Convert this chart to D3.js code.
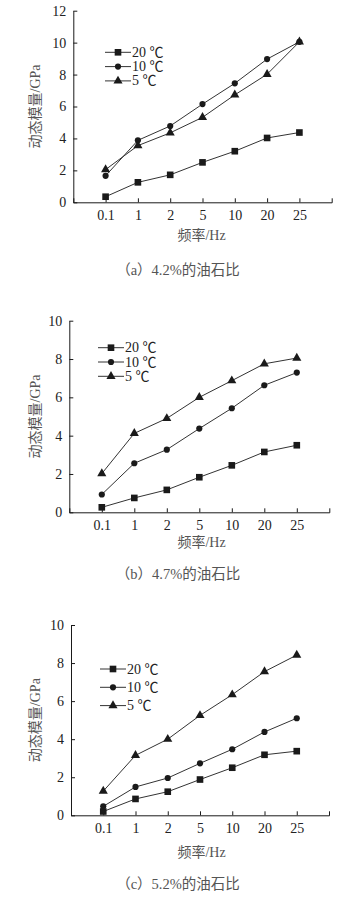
<!DOCTYPE html>
<html>
<head>
<meta charset="utf-8">
<script src="https://cdn.jsdelivr.net/npm/d3@7"></script>
<style>
  body { margin: 0; background: #fff; }
  svg { display: block; }
</style>
</head>
<body>
<svg id="chart" width="357" height="900"></svg>
<script>
// 数据
const freqs = ["0.1", "1", "2", "5", "10", "20", "25"];
const seriesLabels = ["20 ℃", "10 ℃", "5 ℃"];
const ticksA = [0, 2, 4, 6, 8, 10, 12];
const ticksBC = [0, 2, 4, 6, 8, 10];

const a20 = [0.35, 1.25, 1.72, 2.5, 3.2, 4.03, 4.37];
const a10 = [1.66, 3.88, 4.78, 6.15, 7.45, 8.97, 10.05];
const a5  = [2.05, 3.55, 4.35, 5.32, 6.73, 8.02, 10.05];

const b20 = [0.26, 0.75, 1.17, 1.83, 2.45, 3.15, 3.5];
const b10 = [0.93, 2.56, 3.27, 4.37, 5.43, 6.63, 7.29];
const b5  = [2.02, 4.12, 4.9, 6.0, 6.87, 7.75, 8.05];

const c20 = [0.2, 0.86, 1.24, 1.88, 2.5, 3.18, 3.37];
const c10 = [0.47, 1.49, 1.96, 2.73, 3.47, 4.38, 5.1];
const c5  = [1.27, 3.15, 4.0, 5.25, 6.34, 7.55, 8.42];

const captions = ["（a）4.2%的油石比", "（b）4.7%的油石比", "（c）5.2%的油石比"];
const xTitle = "频率/Hz";
const yTitle = "动态模量/GPa";

// 面板布局
const panels = [
  { series: [a20, a10, a5], ticks: ticksA, yMax: 12,
    left: 73.3, right: 331.7, top: 10.7, bottom: 202.3,
    legX: 105, legY: 52.3, legStep: 14.3, xTitleY: 240, capY: 275 },
  { series: [b20, b10, b5], ticks: ticksBC, yMax: 10,
    left: 69.3, right: 329.3, top: 320.7, bottom: 512.3,
    legX: 98, legY: 347.7, legStep: 14.3, xTitleY: 546.5, capY: 579 },
  { series: [c20, c10, c5], ticks: ticksBC, yMax: 10,
    left: 71, right: 329, top: 625, bottom: 815.3,
    legX: 100, legY: 669, legStep: 18.3, xTitleY: 856.5, capY: 889 }
];

const symbols = [d3.symbolSquare, d3.symbolCircle, d3.symbolTriangle];
const symSizes = [44, 30, 36];
const ink = "#1a1a1a";
const serif = '"Liberation Serif", "Noto Sans CJK SC", serif';

const svg = d3.select("#chart");

function numText(sel, size) {
  sel.attr("font-family", serif)
    .attr("font-size", size)
    .attr("fill", "#222");
}

panels.forEach((p, pi) => {
  const g = svg.append("g");

  const x = d3.scalePoint().domain(freqs).range([p.left, p.right]).padding(1);
  const y = d3.scaleLinear().domain([0, p.yMax]).range([p.bottom, p.top]);

  // x 轴
  const xAxis = g.append("g")
    .attr("transform", `translate(0,${p.bottom})`)
    .call(d3.axisBottom(x).tickSizeInner(-4).tickSizeOuter(-4).tickPadding(8))
    .attr("font-family", null).attr("font-size", null);
  xAxis.selectAll("line, path").attr("stroke", ink);
  xAxis.selectAll("text").call(numText, 14);

  // y 轴
  const yAxis = g.append("g")
    .attr("transform", `translate(${p.left},0)`)
    .call(d3.axisLeft(y).tickValues(p.ticks).tickSizeInner(-4).tickSizeOuter(0).tickPadding(7))
    .attr("font-family", null).attr("font-size", null);
  yAxis.selectAll("line, path").attr("stroke", ink);
  yAxis.selectAll("text").call(numText, 14);

  // 折线与标记
  const line = d3.line().x((d, i) => x(freqs[i])).y(d => y(d));
  p.series.forEach((vals, si) => {
    g.append("path")
      .datum(vals)
      .attr("d", line)
      .attr("fill", "none")
      .attr("stroke", "#333")
      .attr("stroke-width", 1);
    g.selectAll(".m" + si)
      .data(vals)
      .enter().append("path")
      .attr("class", "m" + si)
      .attr("transform", (d, i) => `translate(${x(freqs[i])},${y(d)})`)
      .attr("d", d3.symbol().type(symbols[si]).size(symSizes[si]))
      .attr("fill", ink);
  });

  // 图例
  seriesLabels.forEach((lab, si) => {
    const ly = p.legY + si * p.legStep;
    g.append("line")
      .attr("x1", p.legX).attr("x2", p.legX + 26)
      .attr("y1", ly).attr("y2", ly)
      .attr("stroke", "#333");
    g.append("path")
      .attr("transform", `translate(${p.legX + 13},${ly})`)
      .attr("d", d3.symbol().type(symbols[si]).size(symSizes[si]))
      .attr("fill", ink);
    g.append("text")
      .attr("x", p.legX + 27)
      .attr("y", ly + 4.5)
      .call(numText, 14)
      .text(lab);
  });

  // 轴标题
  g.append("text")
    .attr("font-family", serif)
    .attr("font-size", 14)
    .attr("fill", "#555")
    .attr("text-anchor", "middle")
    .attr("transform", `translate(40,${(p.top + p.bottom) / 2}) rotate(-90)`)
    .text(yTitle);

  g.append("text")
    .attr("font-family", serif)
    .attr("font-size", 14)
    .attr("fill", "#555")
    .attr("text-anchor", "middle")
    .attr("x", 201.5)
    .attr("y", p.xTitleY)
    .text(xTitle);

  g.append("text")
    .attr("font-family", serif)
    .attr("font-size", 14.5)
    .attr("fill", "#555")
    .attr("text-anchor", "middle")
    .attr("x", 178)
    .attr("y", p.capY)
    .text(captions[pi]);
});
</script>
</body>
</html>
